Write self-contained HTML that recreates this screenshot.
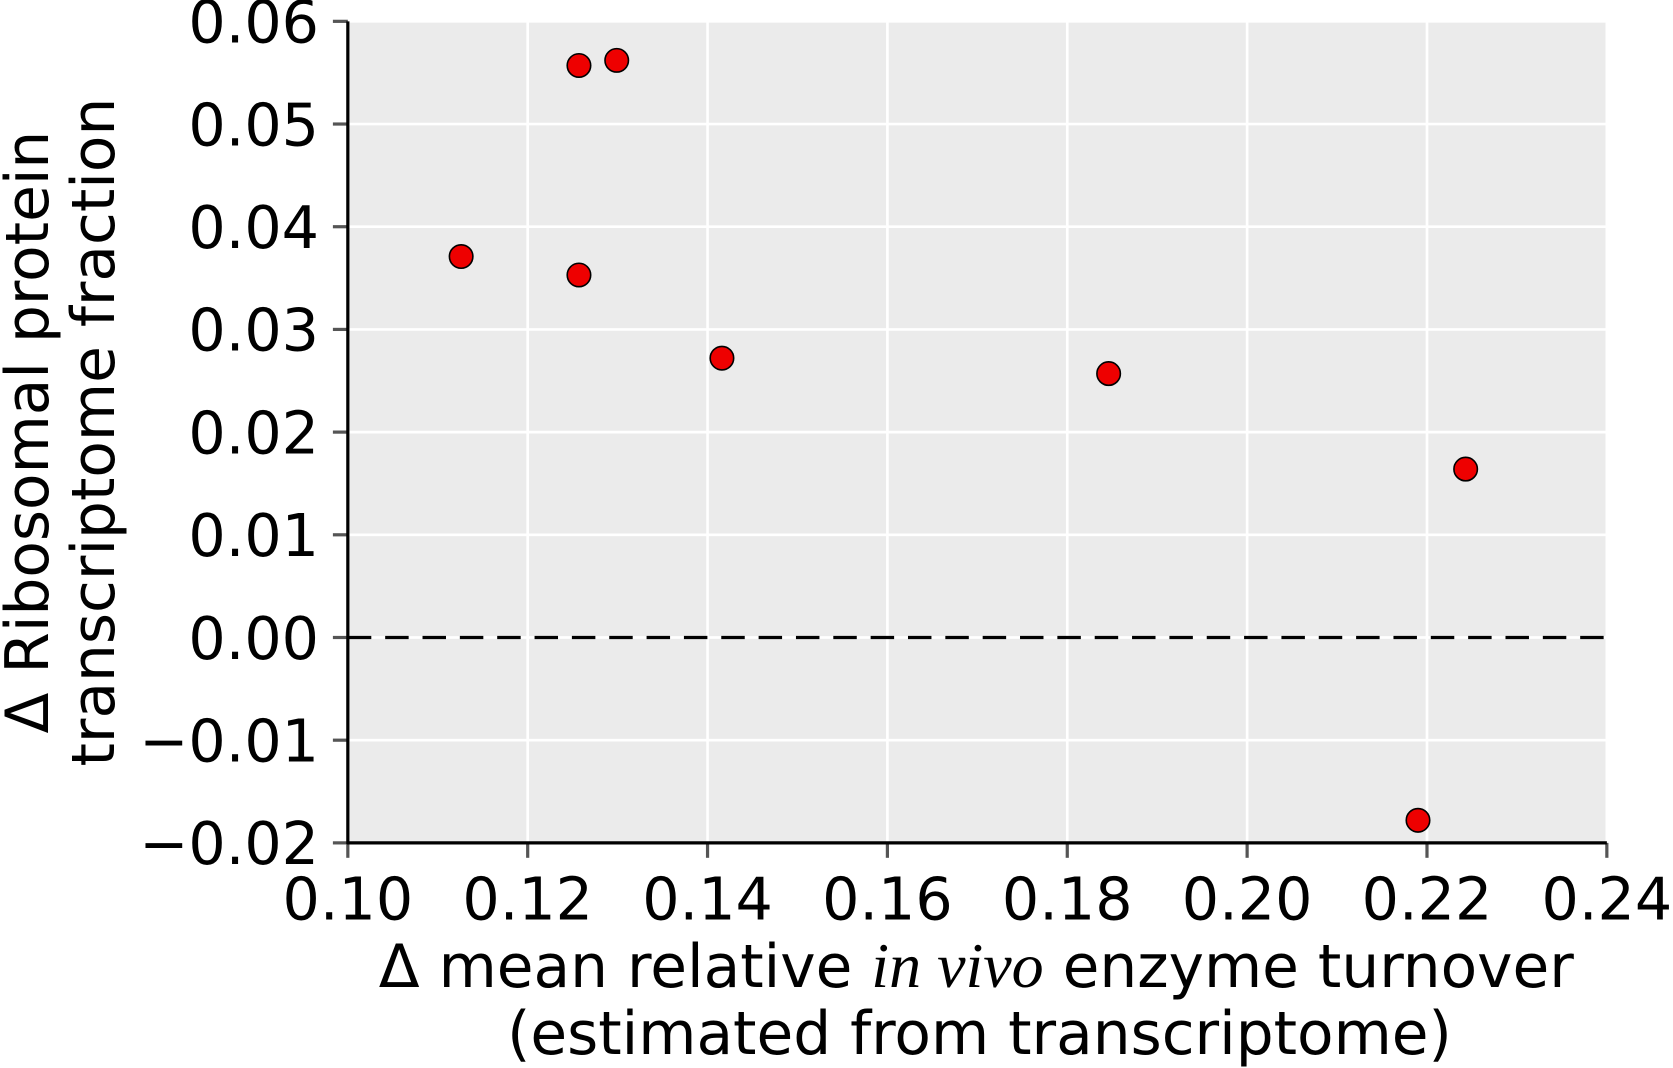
<!DOCTYPE html>
<html><head><meta charset="utf-8"><style>
html,body{margin:0;padding:0;background:#fff;}
svg{display:block;font-family:"DejaVu Sans","Liberation Sans",sans-serif;}
</style></head><body>
<svg id="chart" width="1673" height="1068" viewBox="0 0 1568 1001" preserveAspectRatio="none" xmlns="http://www.w3.org/2000/svg">
<rect x="326" y="20" width="1180" height="770" fill="#ebebeb"/>
<g id="grid"></g>
<line x1="326" x2="1506" y1="597.5" y2="597.5" stroke="#000" stroke-width="3" stroke-dasharray="22,13"/>
<g id="axes"></g>
<g id="points"></g>
<text transform="translate(45,405) rotate(-90)" text-anchor="middle" font-size="56">Δ Ribosomal protein</text>
<text transform="translate(107,405) rotate(-90)" text-anchor="middle" font-size="56">transcriptome fraction</text>
<text x="915" y="925" text-anchor="middle" font-size="56">Δ mean relative <tspan font-family="'Liberation Serif',serif" font-style="italic" font-size="60">in vivo</tspan> enzyme turnover</text>
<text x="918" y="988" text-anchor="middle" font-size="56">(estimated from transcriptome)</text>
</svg>
<script>
const xTicks=[0.10,0.12,0.14,0.16,0.18,0.20,0.22,0.24];
const yTicks=[-0.02,-0.01,0.00,0.01,0.02,0.03,0.04,0.05,0.06];
const xVals=[0.1126,0.1257,0.1299,0.1257,0.1416,0.1846,0.2243,0.2190];
const yVals=[0.0371,0.0557,0.0562,0.0353,0.0272,0.0257,0.0164,-0.0178];
const X0=326,X1=1506,Y0=790,Y1=20;
const sx=v=>X0+(v-0.10)/(0.14)*(X1-X0);
const sy=v=>Y0-(v+0.02)/(0.08)*(Y0-Y1);
const NS="http://www.w3.org/2000/svg";
function mk(tag,attrs,parent){const e=document.createElementNS(NS,tag);for(const k in attrs)e.setAttribute(k,attrs[k]);parent.appendChild(e);return e;}
const grid=document.getElementById('grid'),axes=document.getElementById('axes'),pts=document.getElementById('points');
xTicks.forEach(t=>{const x=sx(t);
 const g=mk('line',{x1:x,x2:x,y1:Y1,y2:Y0,stroke:'#fff','stroke-width':2.5},grid);
 
 
 const tk=mk('line',{x1:x,x2:x,y1:Y0,y2:Y0+14,stroke:'#555','stroke-width':3},axes);
 
 
 const tl=mk('text',{x:x,y:Y0+72,'text-anchor':'middle','font-size':55},axes);tl.textContent=t.toFixed(2);
 
 
});
yTicks.forEach(t=>{const y=sy(t);
 const g=mk('line',{x1:X0,x2:X1,y1:y,y2:y,stroke:'#fff','stroke-width':2.5},grid);
 
 
 const tk=mk('line',{x1:X0-14,x2:X0,y1:y,y2:y,stroke:'#555','stroke-width':3},axes);
 
 
 const tl=mk('text',{x:X0-27,y:y+20,'text-anchor':'end','font-size':55},axes);tl.textContent=(t<0?'\u2212':'')+Math.abs(t).toFixed(2);
 
 
});
const ya=mk('line',{x1:X0,x2:X0,y1:Y1,y2:Y0+1,stroke:'#000','stroke-width':3},axes);


const xa=mk('line',{x1:X0-1,x2:X1,y1:Y0,y2:Y0,stroke:'#000','stroke-width':3},axes);


xVals.forEach((v,i)=>{
 const c=mk('circle',{cx:sx(v),cy:sy(yVals[i]),r:11,fill:'#ee0000',stroke:'#000','stroke-width':1.5},pts);
 
 
});
</script>
</body></html>
